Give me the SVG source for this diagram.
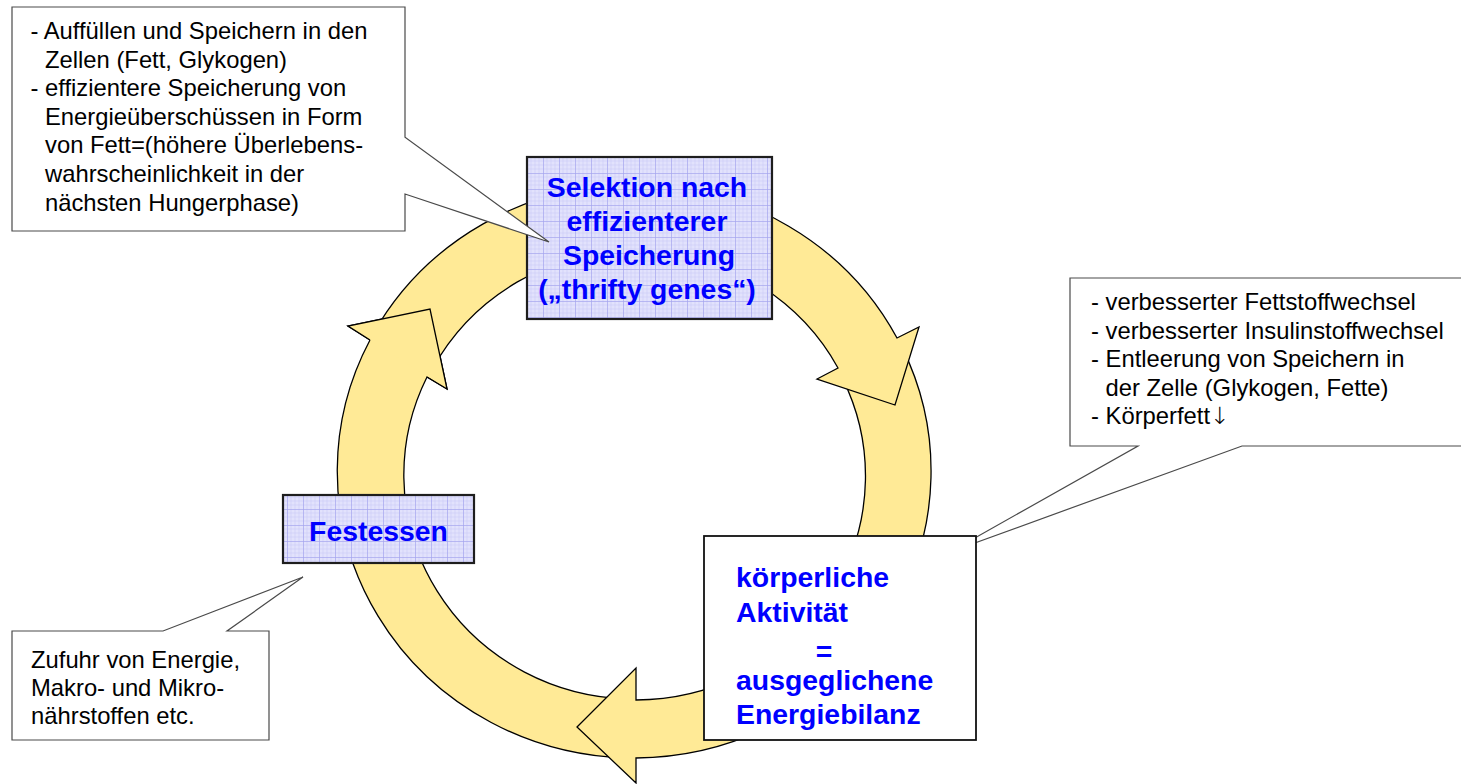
<svg xmlns="http://www.w3.org/2000/svg" width="1461" height="784" viewBox="0 0 1461 784">
<defs>
<pattern id="grid" width="16" height="16" patternUnits="userSpaceOnUse" x="527" y="157">
<rect width="16" height="16" fill="#E2E2FC"/>
<path d="M4 0V16M8 0V16M12 0V16M0 4H16M0 8H16M0 12H16" stroke="#CACAF6" stroke-width="0.6" fill="none"/>
<path d="M0.4 0V16M0 0.4H16" stroke="#A4A4EE" stroke-width="0.8" fill="none"/>
</pattern>
</defs>
<style>
.callout{fill:#fff;stroke:#4a4a4a;stroke-width:1.2}
.arrow{fill:#FFEA96;stroke:#000;stroke-width:1.3;stroke-linejoin:miter}
.node{fill:url(#grid);stroke:#1e1e1e;stroke-width:2.2}
.plain{fill:#fff;stroke:#111;stroke-width:1.8}
.txt{font-family:"Liberation Sans",Arial,sans-serif;font-size:23.8px;fill:#000}
.ttl{font-family:"Liberation Sans",Arial,sans-serif;font-size:28.4px;font-weight:bold;fill:#0000FF}
.sym{font-family:"DejaVu Sans",sans-serif;font-weight:200}
</style>
<rect width="1461" height="784" fill="#fff"/>

<g id="callout-right">
<path class="callout" d="M1070,278 H1466 V446 H1242 L950,552 L1138,446 H1070 Z"/>
<text class="txt" x="1091" y="310">- verbesserter Fettstoffwechsel</text>
<text class="txt" x="1091" y="338.5">- verbesserter Insulinstoffwechsel</text>
<text class="txt" x="1091" y="367">- Entleerung von Speichern in</text>
<text class="txt" x="1105.5" y="395.5">der Zelle (Glykogen, Fette)</text>
<text class="txt" x="1091" y="424">- Körperfett<tspan class="sym">↓</tspan></text>
</g>

<g id="connectors">
<path id="arrow-bottom-left" class="arrow" d="M623.6,757.8 A297,287 0 0 1 370,340 L348,326 L430,309 L447,389 L427,377 A230,224 0 0 0 627,698.9 Z"/>
<path id="arrow-right-bottom" class="arrow" d="M902.1,347.4 A297,287 0 0 1 636,758 L636,783 L577,727 L636,668 L636,700 A230,224 0 0 0 842.6,378.6 Z"/>
<path id="arrow-top-right" class="arrow" d="M373,334 A297,287 0 0 1 897,338 L919,327 L895,405 L817,379 L838,368 A230,224 0 0 0 432.9,368.1 Z"/>
<polygon points="348,326 430,309 447,389" fill="#FFEA96" stroke="none"/>
<polyline points="370,340 348,326 430,309 447,389 427,377" fill="none" stroke="#000" stroke-width="1.3"/>
</g>

<g id="node-selektion">
<rect class="node" x="527" y="157" width="245" height="162"/>
<text class="ttl" x="647" y="197" text-anchor="middle">Selektion nach</text>
<text class="ttl" x="647" y="231" text-anchor="middle">effizienterer</text>
<text class="ttl" x="649" y="265" text-anchor="middle">Speicherung</text>
<text class="ttl" x="647" y="299" text-anchor="middle">(„thrifty genes“)</text>
</g>

<g id="node-festessen">
<rect class="node" x="283" y="495" width="191" height="68"/>
<text class="ttl" x="378.5" y="541" text-anchor="middle">Festessen</text>
</g>

<g id="node-aktivitaet">
<rect class="plain" x="704" y="536" width="272" height="204"/>
<text class="ttl" x="736" y="587">körperliche</text>
<text class="ttl" x="736" y="621.5">Aktivität</text>
<text class="ttl" x="824" y="661" text-anchor="middle">=</text>
<text class="ttl" x="736" y="690">ausgeglichene</text>
<text class="ttl" x="736" y="724">Energiebilanz</text>
</g>

<g id="callout-top-left">
<path class="callout" d="M12,7 H405 V137.3 L549,242 L405,194 V231 H12 Z"/>
<text class="txt" x="30.5" y="39">- Auffüllen und Speichern in den</text>
<text class="txt" x="45" y="67.6">Zellen (Fett, Glykogen)</text>
<text class="txt" x="30.5" y="96.2">- effizientere Speicherung von</text>
<text class="txt" x="45" y="124.8">Energieüberschüssen in Form</text>
<text class="txt" x="45" y="153.4">von Fett=(höhere Überlebens-</text>
<text class="txt" x="45" y="182">wahrscheinlichkeit in der</text>
<text class="txt" x="45" y="210.6">nächsten Hungerphase)</text>
</g>

<g id="callout-bottom-left">
<path class="callout" d="M12,631 H163 L303,577 L227,631 H269 V740 H12 Z"/>
<text class="txt" x="31" y="668">Zufuhr von Energie,</text>
<text class="txt" x="31" y="696">Makro- und Mikro-</text>
<text class="txt" x="31" y="724">nährstoffen etc.</text>
</g>
</svg>
